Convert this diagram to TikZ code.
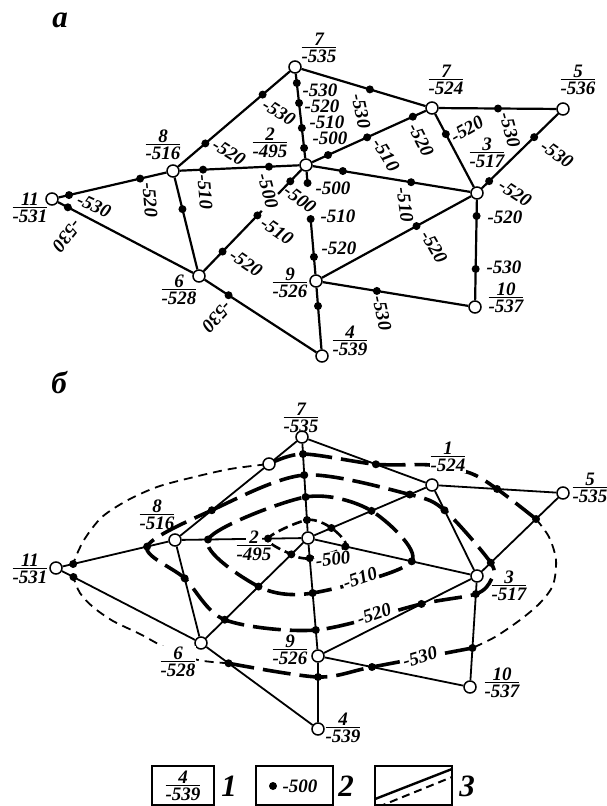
\documentclass[tikz,border=0pt]{standalone}
\usepackage{fontspec}
\setmainfont{Liberation Serif}
\usetikzlibrary{calc}
\pgfdeclarelayer{bg}
\pgfdeclarelayer{fg}
\pgfsetlayers{bg,main,fg}
\newcommand\lbf{\fontsize{19}{19}\selectfont\bfseries\itshape}
\newcommand\bigf{\fontsize{31}{31}\selectfont\bfseries\itshape}
\newcommand\fr[2]{\vbox{\halign{\hfil##\hfil\cr #1\cr\noalign{\kern1pt\hrule height 1.4pt\kern1.5pt}#2\cr}}}
\newcommand\dotat[4]{\node[dt] (#1) at ($(#2)!#3!(#4)$) {};}
\tikzset{
 wn/.style={circle,draw,fill=white,line width=1.5pt,minimum size=12pt,inner sep=0pt},
 dt/.style={circle,fill=black,minimum size=8pt,inner sep=0pt},
 lb/.style={font=\lbf,inner sep=0pt},
 lbw/.style={font=\lbf,inner sep=1pt,fill=white},
 ed/.style={line width=2.2pt},
 edb/.style={line width=1.8pt},
 iso/.style={line width=3.6pt,dash pattern=on 28pt off 9pt},
 isom/.style={line width=2.6pt,dash pattern=on 10pt off 5pt},
 isot/.style={line width=1.8pt,dash pattern=on 9pt off 6pt},
}
\begin{document}
\begin{tikzpicture}[x=1pt,y=-1pt]
\useasboundingbox (0,0) rectangle (607,806);
\node[font=\bigf] (la) at (60,20) {а};
\node[font=\bigf] (lb) at (59,383) {б};
% ================= (a) =================
\node[wn] (a7) at (295,67) {};
\node[wn] (a1) at (432,108) {};
\node[wn] (a5) at (563,109) {};
\node[wn] (a8) at (173,171) {};
\node[wn] (a2) at (306,165) {};
\node[wn] (a11) at (52,199) {};
\node[wn] (a3) at (477,193) {};
\node[wn] (a6) at (199,276) {};
\node[wn] (a9) at (316,281) {};
\node[wn] (a10) at (475,307) {};
\node[wn] (a4) at (322,356) {};
\coordinate (a26e) at ($(a2)!(277,193)!(a6)$);
\coordinate (a62e) at ($(a2)!(262,211)!(a6)$);
\coordinate (a29e) at ($(a2)!(308,184)!(a9)$);
\coordinate (a92e) at ($(a2)!(311,218)!(a9)$);
\begin{pgfonlayer}{bg}
\draw[ed] (a11)--(a8) (a11)--(a6) (a8)--(a7) (a8)--(a2) (a8)--(a6) (a7)--(a2)
 (a7)--(a1) (a1)--(a5) (a1)--(a3) (a5)--(a3) (a2)--(a1) (a2)--(a3) (a3)--(a10)
 (a3)--(a9) (a9)--(a10) (a9)--(a4) (a6)--(a4) (a2)--(a26e) (a6)--(a62e)
 (a2)--(a29e) (a9)--(a92e);
\end{pgfonlayer}
\begin{pgfonlayer}{fg}
\dotat{d1}{a11}{(69,195)}{a8}
\dotat{d2}{a11}{(140,178)}{a8}
\dotat{d3}{a11}{(68,207)}{a6}
\dotat{d4}{a8}{(205,143)}{a7}
\dotat{d5}{a8}{(263,95)}{a7}
\dotat{d6}{a8}{(203,168)}{a2}
\dotat{d7}{a8}{(269,167)}{a2}
\dotat{d8}{a8}{(183,209)}{a6}
\dotat{d9}{a7}{(297,83)}{a2}
\dotat{d10}{a7}{(299,103)}{a2}
\dotat{d11}{a7}{(302,128)}{a2}
\dotat{d12}{a7}{(304,148)}{a2}
\dotat{d13}{a7}{(370,89)}{a1}
\dotat{d14}{a2}{(328,155)}{a1}
\dotat{d15}{a2}{(367,137)}{a1}
\dotat{d16}{a2}{(413,117)}{a1}
\dotat{d17}{a1}{(498,109)}{a5}
\dotat{d18}{a1}{(446,134)}{a3}
\dotat{d19}{a5}{(535,138)}{a3}
\dotat{d20}{a5}{(491,183)}{a3}
\dotat{d21}{a2}{(343,170)}{a3}
\dotat{d22}{a2}{(411,183)}{a3}
\dotat{d23}{a3}{(478,216)}{a10}
\dotat{d24}{a3}{(477,269)}{a10}
\dotat{d25}{a3}{(417,227)}{a9}
\dotat{d26}{a9}{(377,290)}{a10}
\dotat{d27}{a9}{(318,306)}{a4}
\dotat{d28}{a6}{(230,293)}{a4}
\dotat{d29}{a2}{(290,181)}{a6}
\dotat{d30}{a6}{(222,251)}{a2}
\dotat{d31}{a6}{(257,215)}{a2}
\dotat{d32}{a2}{(308,183)}{a9}
\dotat{d33}{a9}{(311,219)}{a2}
\dotat{d34}{a9}{(313,257)}{a2}
\end{pgfonlayer}
% contour values (a)
\node[lb,rotate=-25] at (94,206) {-530};
\node[lb,rotate=-85] at (150,200) {-520};
\node[lb,rotate=231] at (67,236) {-530};
\node[lb,rotate=-32] at (229,152) {-520};
\node[lb,rotate=-32] at (279,112) {-530};
\node[lb,rotate=-85] at (205,192) {-510};
\node[lb,rotate=-75] at (268,191) {-500};
\node[lb] at (320,90) {-530};
\node[lb] at (322,106) {-520};
\node[lb] at (327,122) {-510};
\node[lb] at (330,138) {-500};
\node[lb,rotate=-78] at (361,111) {-530};
\node[lb,rotate=-58] at (386,155) {-510};
\node[lb,rotate=-63] at (421,140) {-520};
\node[lb,rotate=-75] at (510,130) {-530};
\node[lb,rotate=30] at (467,129) {-520};
\node[lb,rotate=-35] at (557,154) {-530};
\node[lb,rotate=-33] at (515,193) {-520};
\node[lb,rotate=-82] at (405,205) {-510};
\node[lb] at (505,217) {-520};
\node[lb] at (504,267) {-530};
\node[lb,rotate=-60] at (434,247) {-520};
\node[lb,rotate=-78] at (382,313) {-530};
\node[lb,rotate=227] at (217,317) {-530};
\node[lb,rotate=-36] at (300,199) {-500};
\node[lb,rotate=-34] at (246,263) {-520};
\node[lb,rotate=-34] at (277,231) {-510};
\node[lb] at (333,188) {-500};
\node[lb] at (338,216) {-510};
\node[lb] at (339,248) {-520};
% node labels (a)
\node[lb] (ta7) at (319,48) {\fr{7}{-535}};
\node[lb] (ta8) at (163,145) {\fr{8}{-516}};
\node[lb] (ta2) at (270,143) {\fr{2}{-495}};
\node[lb] (ta1) at (446,80) {\fr{7}{-524}};
\node[lb] (ta5) at (578,80) {\fr{5}{-536}};
\node[lb] (ta3) at (487,153) {\fr{3}{-517}};
\node[lb] (ta11) at (30,208) {\fr{11}{-531}};
\node[lb] (ta6) at (179,290) {\fr{6}{-528}};
\node[lb] (ta9) at (290,283) {\fr{9}{-526}};
\node[lb] (ta10) at (506,298) {\fr{10}{-537}};
\node[lb] (ta4) at (350,341) {\fr{4}{-539}};
% ================= (b) =================
\node[wn] (b7) at (302,437) {};
\node[wn] (bX) at (269,464) {};
\node[wn] (b1) at (432,485) {};
\node[wn] (b5) at (563,493) {};
\node[wn] (b8) at (175,540) {};
\node[wn] (b2) at (308,538) {};
\node[wn] (b3) at (477,576) {};
\node[wn] (b11) at (56,568) {};
\node[wn] (b6) at (201,643) {};
\node[wn] (b9) at (318,656) {};
\node[wn] (b10) at (470,687) {};
\node[wn] (b4) at (318,729) {};
\begin{pgfonlayer}{fg}
\dotat{e1}{b11}{(73,563)}{b8}
\dotat{e2}{b11}{(147,546)}{b8}
\dotat{e3}{b11}{(73,578)}{b6}
\dotat{e4}{b8}{(210,508)}{bX}
\dotat{e5}{b7}{(303,454)}{b2}
\dotat{e6}{b7}{(305,475)}{b2}
\dotat{e7}{b7}{(306,497)}{b2}
\dotat{e8}{b7}{(307,520)}{b2}
\dotat{e9}{b7}{(376,464)}{b1}
\dotat{e10}{b1}{(497,490)}{b5}
\dotat{e11}{b1}{(445,510)}{b3}
\dotat{e12}{b5}{(536,519)}{b3}
\dotat{e13}{b5}{(492,564)}{b3}
\dotat{e14}{b2}{(331,527)}{b1}
\dotat{e15}{b2}{(372,512)}{b1}
\dotat{e16}{b2}{(410,495)}{b1}
\dotat{e17}{b2}{(346,544)}{b3}
\dotat{e18}{b2}{(412,560)}{b3}
\dotat{e19}{b8}{(208,539)}{b2}
\dotat{e20}{b8}{(268,539)}{b2}
\dotat{e21}{b2}{(290,553)}{b6}
\dotat{e22}{b2}{(258,586)}{b6}
\dotat{e23}{b2}{(225,620)}{b6}
\dotat{e24}{b2}{(312,558)}{b9}
\dotat{e25}{b2}{(313,593)}{b9}
\dotat{e26}{b2}{(316,630)}{b9}
\dotat{e27}{b8}{(186,578)}{b6}
\dotat{e28}{b6}{(228,664)}{b4}
\dotat{e29}{b9}{(318,677)}{b4}
\dotat{e30}{b9}{(372,667)}{b10}
\dotat{e31}{b9}{(422,605)}{b3}
\dotat{e32}{b3}{(476,594)}{b10}
\dotat{e33}{b3}{(473,648)}{b10}
\end{pgfonlayer}
\begin{pgfonlayer}{bg}
\draw[edb] (b11)--(b8) (b11)--(b6) (b8)--(bX) (bX)--(b7) (b8)--(b2) (b8)--(b6)
 (b7)--(b2) (b7)--(b1) (b1)--(b5) (b1)--(b3) (b5)--(b3) (b2)--(b1) (b2)--(b3)
 (b2)--(b6) (b2)--(b9) (b9)--(b3) (b3)--(b10) (b9)--(b10) (b9)--(b4) (b6)--(b4);
% isolines
\draw[isom] plot[smooth cycle] coordinates {(e20) (e8) (e14) (e17) (e24) (e21)};
\draw[iso] plot[smooth cycle] coordinates {(e19) (e7) (e15) (e18) (e25) (e22)};
\draw[iso] plot[smooth cycle] coordinates {(e2) (e4) (e6) (e16) (e11) (e13) (491,580) (e32) (e31) (e26) (e23) (e27)};
\draw[isot] plot[smooth] coordinates {(e28) (198,660) (168,649) (140,634) (113,621) (93,607) (80,593) (e3) (e1) (84,540) (102,517) (128,500) (157,487) (190,478) (230,469) (bX)};
\draw[iso] plot[smooth] coordinates {(bX) (e5) (e9) (430,465) (470,473) (e10) (e12)};
\draw[isot] plot[smooth] coordinates {(e12) (549,537) (556,560) (553,585) (540,603) (520,620) (495,637) (e33)};
\draw[iso] plot[smooth] coordinates {(e33) (e30) (e29) (e28)};
\end{pgfonlayer}
% isoline values (b)
\node[lbw,rotate=8] at (333,559) {-500};
\node[lbw,rotate=19] at (360,578) {-510};
\node[lbw,rotate=19] at (374,614) {-520};
\node[lbw,rotate=16] at (420,657) {-530};
% node labels (b)
\fill[white] (246,530) rectangle (262,546);
\node[lb] (tb7) at (301,418) {\fr{7}{-535}};
\node[lbw] (tb1) at (448,457) {\fr{1}{-524}};
\node[lb] (tb5) at (590,488) {\fr{5}{-535}};
\node[lb] (tb8) at (157,515) {\fr{8}{-516}};
\node[lb] (tb2) at (254,546) {\fr{2}{-495}};
\node[lb] (tb3) at (509,586) {\fr{3}{-517}};
\node[lb] (tb11) at (30,569) {\fr{11}{-531}};
\node[lbw] (tb6) at (178,662) {\fr{6}{-528}};
\node[lb] (tb9) at (290,650) {\fr{9}{-526}};
\node[lb] (tb10) at (502,683) {\fr{10}{-537}};
\node[lb] (tb4) at (343,728) {\fr{4}{-539}};
% ================= legend =================
\draw[line width=1.5pt] (152,766) rectangle (214,805);
\node[lb] (lg1) at (183,786) {\fr{4}{-539}};
\node[font=\bigf] (lgn1) at (229,786) {1};
\draw[line width=1.5pt] (256,766) rectangle (333,805);
\node[dt] (lgd) at (273,786) {};
\node[lb] (lgt) at (300,786) {-500};
\node[font=\bigf] (lgn2) at (346,786) {2};
\draw[line width=1.5pt] (375,766) rectangle (452,805);
\begin{scope}
\clip (375,766) rectangle (452,805);
\draw[line width=2.4pt] (370,801)--(452,769);
\draw[line width=2pt,dash pattern=on 8pt off 5pt] (378,807)--(452,777);
\end{scope}
\node[font=\bigf] (lgn3) at (467,786) {3};
\end{tikzpicture}
\end{document}
